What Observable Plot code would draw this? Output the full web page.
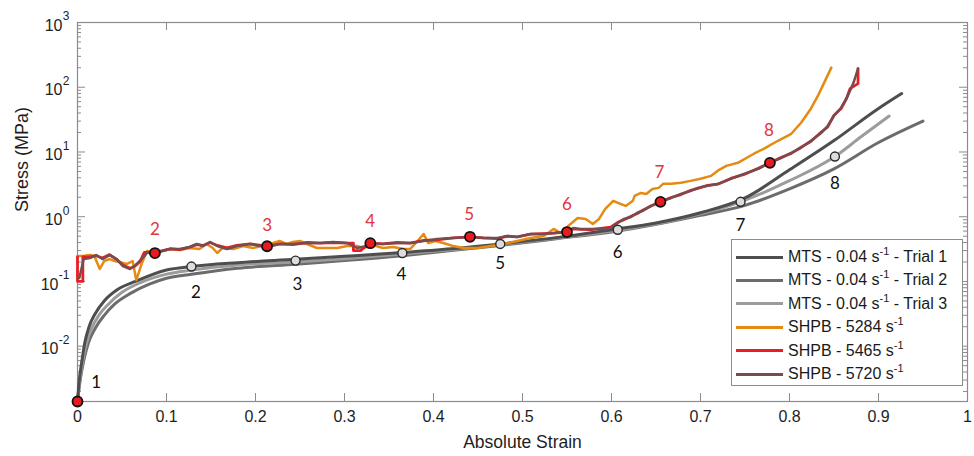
<!DOCTYPE html>
<html><head><meta charset="utf-8">
<script src="https://cdn.jsdelivr.net/npm/d3@7"></script>
<script src="https://cdn.jsdelivr.net/npm/@observablehq/plot@0.6"></script>
<style>
body{margin:0;background:#fff}
#wrap{position:relative;width:974px;height:456px;font-family:"Liberation Sans",Arial,sans-serif}
#legend{position:absolute;left:731px;top:239px;width:232px;height:147px;border:1px solid #8c8c8c;background:#fff;box-sizing:border-box}
.row{position:absolute;left:0;height:20px;display:flex;align-items:center;font-size:16px;color:#1a1a1a;white-space:nowrap}
.sw{width:47px;height:3px;margin-left:4px;margin-right:5px}
.row sup{font-size:11px;position:relative;top:-7px;vertical-align:baseline;line-height:0}
</style></head>
<body><div id="wrap"></div>
<script>
// ---- axis ticks ----
const xTicks = [0, 0.1, 0.2, 0.3, 0.4, 0.5, 0.6, 0.7, 0.8, 0.9, 1];
const yMajorPos = [1, 10, 100, 1000];
const yExpPos = ["0", "1", "2", "3"];
const yMajorNeg = [0.01, 0.1];
const yExpNeg = ["-2", "-1"];

// ---- MTS quasi-static curves [strain, stress MPa] ----
const mtsTrial1 = [[0,0.0014],[0.002,0.003],[0.005,0.006],[0.008,0.011],[0.013,0.02],[0.02,0.032],[0.03,0.05],[0.045,0.075],[0.065,0.1],[0.1,0.15],[0.128,0.17],[0.18,0.195],[0.245,0.22],[0.3,0.245],[0.365,0.28],[0.42,0.32],[0.475,0.38],[0.54,0.48],[0.6,0.63],[0.65,0.8],[0.7,1.15],[0.75,1.95],[0.8,5.3],[0.85,15],[0.9,47],[0.926,80]];
const mtsTrial2 = [[0,0.0014],[0.003,0.003],[0.007,0.006],[0.012,0.011],[0.02,0.019],[0.03,0.03],[0.042,0.045],[0.06,0.066],[0.08,0.09],[0.1,0.112],[0.128,0.129],[0.18,0.16],[0.245,0.185],[0.3,0.21],[0.365,0.25],[0.42,0.3],[0.475,0.36],[0.54,0.46],[0.6,0.58],[0.7,1.05],[0.75,1.5],[0.8,2.7],[0.85,5.5],[0.9,14],[0.95,30]];
const mtsTrial3 = [[0,0.0014],[0.002,0.0025],[0.006,0.006],[0.01,0.011],[0.016,0.019],[0.024,0.03],[0.035,0.045],[0.05,0.068],[0.07,0.095],[0.1,0.13],[0.128,0.15],[0.18,0.18],[0.245,0.2],[0.3,0.225],[0.365,0.265],[0.42,0.31],[0.475,0.37],[0.54,0.47],[0.607,0.62],[0.68,0.95],[0.745,1.7],[0.8,3.6],[0.851,8.5],[0.88,17],[0.912,36]];

// ---- SHPB dynamic curves [strain, stress MPa] ----
const shpb5284 = [[0,0.247],[0.006,0.247],[0.014,0.256],[0.019,0.247],[0.025,0.156],[0.03,0.207],[0.036,0.222],[0.042,0.207],[0.047,0.2],[0.055,0.186],[0.062,0.207],[0.066,0.105],[0.072,0.186],[0.078,0.296],[0.089,0.285],[0.104,0.318],[0.115,0.307],[0.126,0.329],[0.137,0.318],[0.145,0.379],[0.152,0.329],[0.157,0.275],[0.163,0.329],[0.175,0.318],[0.186,0.353],[0.197,0.329],[0.213,0.366],[0.22,0.393],[0.227,0.422],[0.235,0.379],[0.242,0.407],[0.25,0.422],[0.258,0.379],[0.269,0.329],[0.28,0.329],[0.292,0.329],[0.303,0.353],[0.314,0.353],[0.321,0.329],[0.332,0.366],[0.343,0.329],[0.355,0.341],[0.366,0.318],[0.374,0.318],[0.382,0.422],[0.389,0.542],[0.394,0.393],[0.402,0.422],[0.411,0.393],[0.422,0.353],[0.434,0.329],[0.449,0.329],[0.464,0.353],[0.479,0.379],[0.494,0.422],[0.509,0.47],[0.524,0.505],[0.535,0.648],[0.543,0.561],[0.554,0.774],[0.562,0.957],[0.571,0.925],[0.579,0.774],[0.586,0.925],[0.593,1.32],[0.602,1.76],[0.61,1.58],[0.616,1.47],[0.624,1.76],[0.626,2.1],[0.633,2.33],[0.639,2.25],[0.646,2.69],[0.653,2.79],[0.658,3.22],[0.667,3.22],[0.678,3.34],[0.689,3.58],[0.7,3.85],[0.712,4.28],[0.721,5.3],[0.729,6.11],[0.742,6.8],[0.76,9.4],[0.771,11.2],[0.787,14.9],[0.802,19.1],[0.813,28.3],[0.824,46.6],[0.832,74],[0.839,118],[0.847,201]];
const shpb5465 = [[0,0.24],[0,0.1],[0.006,0.1],[0.006,0.24],[0.014,0.24],[0.021,0.25],[0.028,0.23],[0.036,0.26],[0.044,0.22],[0.051,0.18],[0.059,0.16],[0.064,0.17],[0.07,0.2],[0.075,0.28],[0.088,0.28],[0.096,0.3],[0.104,0.32],[0.115,0.31],[0.126,0.34],[0.134,0.37],[0.141,0.36],[0.149,0.4],[0.157,0.36],[0.168,0.33],[0.179,0.36],[0.194,0.38],[0.213,0.35],[0.227,0.38],[0.242,0.37],[0.258,0.4],[0.273,0.39],[0.287,0.4],[0.303,0.39],[0.31,0.39],[0.31,0.3],[0.318,0.3],[0.325,0.36],[0.329,0.39],[0.343,0.38],[0.359,0.4],[0.374,0.39],[0.389,0.43],[0.404,0.44],[0.422,0.47],[0.441,0.49],[0.456,0.47],[0.472,0.46],[0.483,0.5],[0.494,0.49],[0.509,0.54],[0.524,0.55],[0.535,0.56],[0.55,0.58],[0.557,0.65],[0.565,0.64],[0.577,0.63],[0.588,0.66],[0.599,0.69],[0.607,0.82],[0.614,0.9],[0.622,1.02],[0.629,1.12],[0.635,1.26],[0.644,1.45],[0.655,1.7],[0.667,1.98],[0.678,2.2],[0.689,2.55],[0.697,2.75],[0.708,3.05],[0.72,3.2],[0.734,3.9],[0.749,4.5],[0.765,5.6],[0.778,6.8],[0.791,8.3],[0.802,9.5],[0.813,11.9],[0.824,14.5],[0.836,20.5],[0.843,24.5],[0.85,37],[0.858,47],[0.864,67],[0.868,95],[0.877,114],[0.877,194]];
const shpb5720 = [[0.002,0.113],[0.007,0.222],[0.014,0.23],[0.021,0.256],[0.028,0.222],[0.036,0.256],[0.044,0.222],[0.051,0.173],[0.059,0.156],[0.064,0.173],[0.072,0.222],[0.078,0.275],[0.088,0.285],[0.096,0.296],[0.104,0.318],[0.115,0.318],[0.126,0.341],[0.134,0.379],[0.141,0.353],[0.149,0.407],[0.157,0.353],[0.168,0.318],[0.179,0.353],[0.194,0.379],[0.213,0.341],[0.227,0.379],[0.242,0.379],[0.258,0.393],[0.273,0.393],[0.287,0.407],[0.303,0.393],[0.314,0.329],[0.325,0.353],[0.329,0.393],[0.343,0.379],[0.359,0.393],[0.374,0.393],[0.389,0.422],[0.404,0.453],[0.422,0.47],[0.441,0.487],[0.456,0.47],[0.472,0.47],[0.483,0.505],[0.494,0.487],[0.509,0.542],[0.524,0.542],[0.535,0.561],[0.55,0.58],[0.557,0.671],[0.565,0.648],[0.577,0.648],[0.588,0.648],[0.599,0.671],[0.607,0.802],[0.614,0.925],[0.622,0.993],[0.629,1.15],[0.635,1.23],[0.644,1.47],[0.655,1.7],[0.667,1.95],[0.678,2.25],[0.689,2.51],[0.697,2.79],[0.708,3.0],[0.72,3.22],[0.734,3.85],[0.749,4.6],[0.765,5.5],[0.778,6.81],[0.791,8.13],[0.802,9.72],[0.813,11.6],[0.824,14.9],[0.836,19.8],[0.843,25.4],[0.85,36.3],[0.858,48.3],[0.864,66.6],[0.867,82.5],[0.872,118],[0.877,194]];

// ---- marked points and their numbers ----
const mtsPtX = [0.128, 0.245, 0.365, 0.475, 0.607, 0.745, 0.851];
const mtsPtY = [0.17, 0.21, 0.275, 0.38, 0.63, 1.7, 8.5];
const shpbPtX = [0, 0.087, 0.213, 0.329, 0.441, 0.55, 0.655, 0.778];
const shpbPtY = [0.0014, 0.275, 0.35, 0.39, 0.49, 0.58, 1.7, 6.8];
const blackLabelText = ["1", "2", "3", "4", "5", "6", "7", "8"];
const blackLabelX = [0.021, 0.133, 0.247, 0.364, 0.475, 0.607, 0.745, 0.851];
const blackLabelY = [0.00277, 0.0686, 0.091, 0.13, 0.186, 0.275, 0.72, 3.22];
const redLabelText = ["2", "3", "4", "5", "6", "7", "8"];
const redLabelX = [0.087, 0.213, 0.329, 0.44, 0.55, 0.654, 0.777];
const redLabelY = [0.625, 0.72, 0.83, 1.07, 1.52, 4.76, 21.3];

// ---- legend ----
const legendPre = ["MTS - 0.04 s", "MTS - 0.04 s", "MTS - 0.04 s", "SHPB - 5284 s", "SHPB - 5465 s", "SHPB - 5720 s"];
const legendSup = ["-1", "-1", "-1", "-1", "-1", "-1"];
const legendPost = [" - Trial 1", " - Trial 2", " - Trial 3", "", "", ""];
const colors = ["#4e4e4e", "#6c6c6c", "#9c9c9c", "#e38b12", "#ec1c24", "#764c4f"];

const W = 974, H = 456, mL = 77, mR = 7, mT = 22, mB = 55;
const frameW = W - mL - mR, frameH = H - mT - mB;
const minorY = [];
for (let e = -3; e <= 2; e++) for (let k = 2; k <= 9; k++) { const v = k * Math.pow(10, e); if (v >= 0.0014) minorY.push(v); }
const allMajor = yMajorNeg.concat(yMajorPos);
const axisC = "#8c8c8c", txtC = "#1e1e1e";
const mk = (arr, i) => arr.map((d, j) => ({x: d, y: null, j}));
const pts = (xs, ys) => xs.map((x, i) => ({x, y: ys[i]}));
const lbl = (t, xs, ys) => t.map((s, i) => ({s, x: xs[i], y: ys[i]}));
const lineOpt = (c, w, curve) => ({x: d => d[0], y: d => d[1], stroke: c, strokeWidth: w, curve: curve || "linear", strokeLinejoin: "round"});

const chart = Plot.plot({
  width: W, height: H, marginLeft: mL, marginRight: mR, marginTop: mT, marginBottom: mB,
  style: {fontFamily: "'Liberation Sans', Arial, sans-serif", fontSize: "16px", color: txtC, background: "#fff", overflow: "visible"},
  x: {domain: [0, 1], axis: null},
  y: {type: "log", domain: [0.0014, 1000], axis: null},
  marks: [
    Plot.frame({stroke: axisC, strokeWidth: 1.2}),
    Plot.tickX(xTicks, {x: d => d, insetTop: frameH - 8, stroke: axisC}),
    Plot.tickX(xTicks, {x: d => d, insetBottom: frameH - 8, stroke: axisC}),
    Plot.tickY(allMajor, {y: d => d, insetRight: frameW - 8, stroke: axisC}),
    Plot.tickY(allMajor, {y: d => d, insetLeft: frameW - 8, stroke: axisC}),
    Plot.tickY(minorY, {y: d => d, insetRight: frameW - 4, stroke: axisC}),
    Plot.tickY(minorY, {y: d => d, insetLeft: frameW - 4, stroke: axisC}),
    Plot.text(xTicks, {x: d => d, frameAnchor: "bottom", dy: 20, text: d => String(d), fontSize: 16, fill: txtC}),
    Plot.text(yMajorPos, {y: d => d, frameAnchor: "left", text: () => "10", textAnchor: "end", dx: -15, dy: 3, fontSize: 16, fill: txtC}),
    Plot.text(yMajorPos, {y: d => d, frameAnchor: "left", text: (d, i) => yExpPos[i], textAnchor: "end", dx: -8, dy: -6, fontSize: 12, fill: txtC}),
    Plot.text(yMajorNeg, {y: d => d, frameAnchor: "left", text: () => "10", textAnchor: "end", dx: -19, dy: 3, fontSize: 16, fill: txtC}),
    Plot.text(yMajorNeg, {y: d => d, frameAnchor: "left", text: (d, i) => yExpNeg[i], textAnchor: "end", dx: -8, dy: -6, fontSize: 12, fill: txtC}),
    Plot.text(["Absolute Strain"], {frameAnchor: "bottom", dy: 46, fontSize: 17.5, fill: txtC}),
    Plot.text(["Stress (MPa)"], {frameAnchor: "left", dx: -55, rotate: -90, fontSize: 18, fill: txtC}),
    Plot.line(mtsTrial2, lineOpt(colors[1], 3, "monotone-x")),
    Plot.line(mtsTrial3, lineOpt(colors[2], 3, "monotone-x")),
    Plot.line(mtsTrial1, lineOpt(colors[0], 3, "monotone-x")),
    Plot.line(shpb5284, lineOpt(colors[3], 2.5)),
    Plot.line(shpb5465, lineOpt(colors[4], 2.8)),
    Plot.line(shpb5720, lineOpt(colors[5], 2.5)),
    Plot.dot(pts(mtsPtX, mtsPtY), {x: "x", y: "y", r: 4.5, fill: "#dcdcdc", stroke: "#2a2a2a", strokeWidth: 1.4}),
    Plot.dot(pts(shpbPtX, shpbPtY), {x: "x", y: "y", r: 5, fill: "#ea1a1f", stroke: "#111", strokeWidth: 1.8}),
    Plot.text(lbl(blackLabelText, blackLabelX, blackLabelY), {x: "x", y: "y", text: "s", fontSize: 17, fill: "#111", fontFamily: "Lato, 'Open Sans', sans-serif"}),
    Plot.text(lbl(redLabelText, redLabelX, redLabelY), {x: "x", y: "y", text: "s", fontSize: 17, fill: "#e0353b", fontFamily: "Lato, 'Open Sans', sans-serif"})
  ]
});
const wrap = document.getElementById("wrap");
wrap.appendChild(chart);
const leg = document.createElement("div");
leg.id = "legend";
legendPre.forEach((p, i) => {
  const row = document.createElement("div");
  row.className = "row";
  row.style.top = (7 + i * 23.4) + "px";
  const sw = document.createElement("span");
  sw.className = "sw";
  sw.style.background = colors[i];
  row.appendChild(sw);
  const t = document.createElement("span");
  t.append(p);
  const s = document.createElement("sup");
  s.textContent = legendSup[i];
  t.appendChild(s);
  t.append(legendPost[i]);
  row.appendChild(t);
  leg.appendChild(row);
});
wrap.appendChild(leg);
</script></body></html>
